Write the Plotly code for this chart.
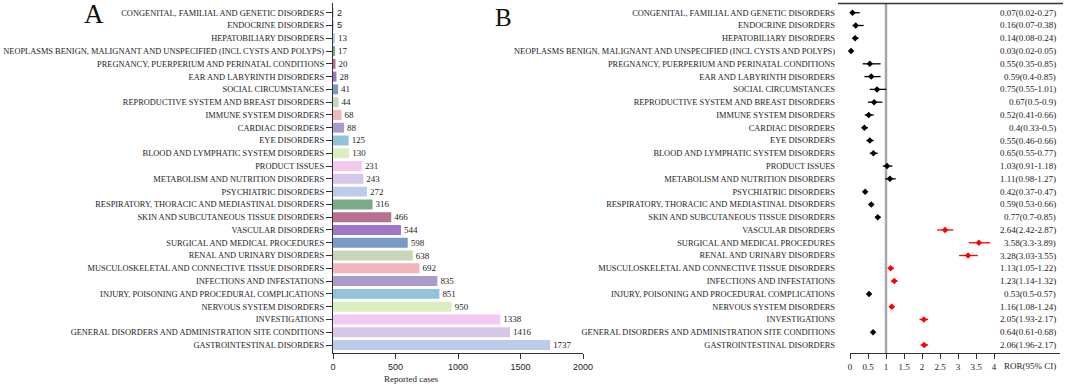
import plotly.graph_objects as go

categories = [
    "CONGENITAL, FAMILIAL AND GENETIC DISORDERS",
    "ENDOCRINE DISORDERS",
    "HEPATOBILIARY DISORDERS",
    "NEOPLASMS BENIGN, MALIGNANT AND UNSPECIFIED (INCL CYSTS AND POLYPS)",
    "PREGNANCY, PUERPERIUM AND PERINATAL CONDITIONS",
    "EAR AND LABYRINTH DISORDERS",
    "SOCIAL CIRCUMSTANCES",
    "REPRODUCTIVE SYSTEM AND BREAST DISORDERS",
    "IMMUNE SYSTEM DISORDERS",
    "CARDIAC DISORDERS",
    "EYE DISORDERS",
    "BLOOD AND LYMPHATIC SYSTEM DISORDERS",
    "PRODUCT ISSUES",
    "METABOLISM AND NUTRITION DISORDERS",
    "PSYCHIATRIC DISORDERS",
    "RESPIRATORY, THORACIC AND MEDIASTINAL DISORDERS",
    "SKIN AND SUBCUTANEOUS TISSUE DISORDERS",
    "VASCULAR DISORDERS",
    "SURGICAL AND MEDICAL PROCEDURES",
    "RENAL AND URINARY DISORDERS",
    "MUSCULOSKELETAL AND CONNECTIVE TISSUE DISORDERS",
    "INFECTIONS AND INFESTATIONS",
    "INJURY, POISONING AND PROCEDURAL COMPLICATIONS",
    "NERVOUS SYSTEM DISORDERS",
    "INVESTIGATIONS",
    "GENERAL DISORDERS AND ADMINISTRATION SITE CONDITIONS",
    "GASTROINTESTINAL DISORDERS",
]
cases = [2, 5, 13, 17, 20, 28, 41, 44, 68, 88, 125, 130, 231, 243, 272,
         316, 466, 544, 598, 638, 692, 835, 851, 950, 1338, 1416, 1737]
ror = [0.07, 0.16, 0.14, 0.03, 0.55, 0.59, 0.75, 0.67, 0.52, 0.4, 0.55, 0.65, 1.03, 1.11, 0.42,
       0.59, 0.77, 2.64, 3.58, 3.28, 1.13, 1.23, 0.53, 1.16, 2.05, 0.64, 2.06]
ror_lo = [0.02, 0.07, 0.08, 0.02, 0.35, 0.4, 0.55, 0.5, 0.41, 0.33, 0.46, 0.55, 0.91, 0.98, 0.37,
          0.53, 0.7, 2.42, 3.3, 3.03, 1.05, 1.14, 0.5, 1.08, 1.93, 0.61, 1.96]
ror_hi = [0.27, 0.38, 0.24, 0.05, 0.85, 0.85, 1.01, 0.9, 0.66, 0.5, 0.66, 0.77, 1.18, 1.27, 0.47,
          0.66, 0.85, 2.87, 3.89, 3.55, 1.22, 1.32, 0.57, 1.24, 2.17, 0.68, 2.17]
palette = ["#bccbea", "#d6c6ea", "#f5c8f1", "#dcedc1", "#91c4d8", "#ab9bcb",
           "#f0b6bc", "#c6d6b9", "#7b9bc6", "#9d78c6", "#b86f90", "#7daa8a"]
left_ticks = [0, 500, 1000, 1500, 2000]
right_ticks = [0, 0.5, 1, 1.5, 2, 2.5, 3, 3.5, 4]

W, H = 1065, 386
n = len(categories)
ypos = [n - 1 - i for i in range(n)]
bar_colors = [palette[(n - 1 - i) % 12] for i in range(n)]
SERIF = "Liberation Serif"
LBL = 8.4

def fmt(v):
    return f"{v:g}"

px = lambda v: v / W
py = lambda v: 1 - v / H

step = (345 - 12.7) / (n - 1)
y_lo = 0 - (353 - 345) / step
y_hi = (n - 1) + (12.7 - 3) / step

fig = go.Figure()
fig.add_trace(go.Bar(
    x=cases, y=ypos, orientation="h",
    marker=dict(color=bar_colors, line=dict(width=0)),
    text=[str(c) for c in cases], textposition="outside",
    textfont=dict(family=["Liberation Sans", "Liberation Sans"] + [SERIF] * (n - 2),
                  size=9, color="#222"),
    cliponaxis=False, width=0.78,
    xaxis="x", yaxis="y", showlegend=False,
))

point_colors = ["#ff0000" if lo > 1 else "#000000" for lo in ror_lo]
for col in ["#000000", "#ff0000"]:
    idx = [i for i in range(n) if point_colors[i] == col]
    fig.add_trace(go.Scatter(
        x=[ror[i] for i in idx], y=[ypos[i] for i in idx], mode="markers",
        marker=dict(symbol="diamond", size=5, color=col),
        error_x=dict(type="data", symmetric=False,
                     array=[ror_hi[i] - ror[i] for i in idx],
                     arrayminus=[ror[i] - ror_lo[i] for i in idx],
                     color=col, thickness=1.3, width=0),
        xaxis="x2", yaxis="y2", showlegend=False, cliponaxis=False,
    ))

annotations = []
for i in range(n):
    annotations.append(dict(
        x=px(1058), xref="paper", y=ypos[i], yref="y2", xanchor="right", yanchor="middle",
        text=f"{fmt(ror[i])}({fmt(ror_lo[i])}-{fmt(ror_hi[i])})", showarrow=False,
        font=dict(family=SERIF, size=9, color="#222")))
annotations += [
    dict(x=px(94), y=py(14), xref="paper", yref="paper", text="A", showarrow=False,
         font=dict(family=SERIF, size=27, color="#111"), xanchor="center", yanchor="middle"),
    dict(x=px(503), y=py(17), xref="paper", yref="paper", text="B", showarrow=False,
         font=dict(family=SERIF, size=25, color="#111"), xanchor="center", yanchor="middle"),
    dict(x=px(411), y=py(379), xref="paper", yref="paper", text="Reported cases", showarrow=False,
         font=dict(family=SERIF, size=9, color="#222"), xanchor="center", yanchor="middle"),
    dict(x=px(1058), y=py(366), xref="paper", yref="paper", text="ROR(95% CI)", showarrow=False,
         font=dict(family=SERIF, size=9, color="#222"), xanchor="right", yanchor="middle"),
]

shapes = [
    dict(type="line", xref="paper", yref="paper", x0=px(838), x1=px(1063), y0=py(3.5), y1=py(3.5),
         line=dict(color="#333", width=1.3)),
    dict(type="line", xref="x2", yref="paper", x0=1, x1=1, y0=py(353), y1=py(3.5),
         line=dict(color="#a6a6a6", width=2.5), layer="below"),
]

axis_font = dict(family=SERIF, size=LBL, color="#222")
tick_font = dict(family=SERIF, size=9, color="#222")
fig.update_layout(
    width=W, height=H, margin=dict(l=0, r=0, t=0, b=0, autoexpand=False),
    plot_bgcolor="white", paper_bgcolor="white",
    xaxis=dict(domain=[px(333), px(583)], range=[0, 2000], tickvals=left_ticks,
               showgrid=False, zeroline=False, showline=True, linecolor="#333", linewidth=1.3,
               ticks="outside", ticklen=5, tickcolor="#333", tickwidth=1.3,
               tickfont=dict(family="Liberation Sans", size=9, color="#222"), anchor="y",
               automargin=False),
    yaxis=dict(domain=[py(353), py(3)], range=[y_lo, y_hi], tickvals=ypos, ticktext=categories,
               showgrid=False, zeroline=False, showline=True, linecolor="#333", linewidth=1.3,
               ticks="outside", ticklen=6, tickcolor="#333", tickwidth=1.3,
               tickfont=axis_font, anchor="x", automargin=False),
    xaxis2=dict(domain=[px(850), px(1060)], range=[0, 210 / 36], tickvals=right_ticks,
                ticktext=[fmt(t) for t in right_ticks],
                showgrid=False, zeroline=False, showline=True, linecolor="#333", linewidth=1.3,
                ticks="outside", ticklen=5, tickcolor="#333", tickwidth=1.3,
                tickfont=tick_font, anchor="y2", automargin=False),
    yaxis2=dict(domain=[py(353), py(3)], range=[y_lo, y_hi], tickvals=ypos, ticktext=categories,
                showgrid=False, zeroline=False, showline=False, ticks="",
                ticklabelstandoff=14, tickfont=axis_font, anchor="x2", automargin=False),
    annotations=annotations, shapes=shapes,
)

fig.write_html("out.html", config={"displayModeBar": False},
               post_script="document.body.style.margin='0';document.body.style.overflow='hidden';")
